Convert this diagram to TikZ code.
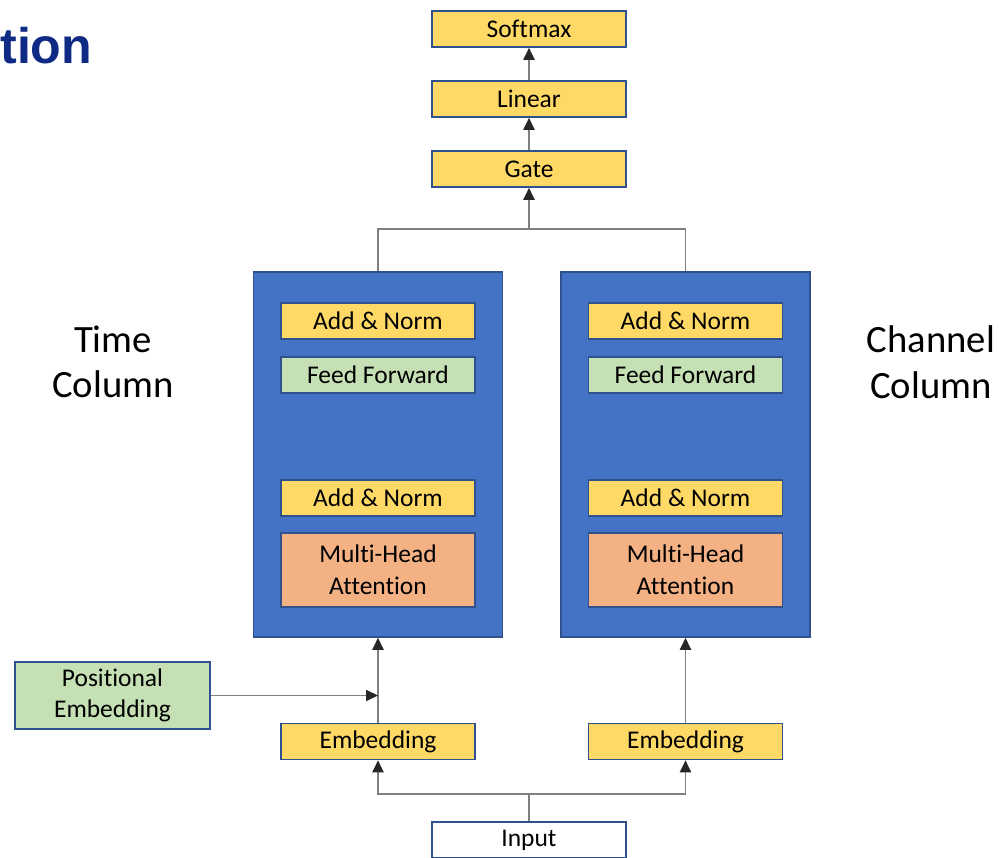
\documentclass[tikz,border=0pt]{standalone}
\usepackage{fontspec}
\setmainfont{Carlito}[Ligatures=NoCommon]
\newfontfamily\titlefont{Liberation Sans}
\usetikzlibrary{arrows.meta,positioning,calc}

\definecolor{boxyellow}{HTML}{FFD966}
\definecolor{boxgreen}{HTML}{C5E0B4}
\definecolor{boxorange}{HTML}{F4B183}
\definecolor{colblue}{HTML}{4472C4}
\definecolor{edgeblue}{HTML}{2F528F}
\definecolor{titleblue}{HTML}{0E2A84}
\definecolor{linegray}{HTML}{7F7F7F}

\begin{document}
\begin{tikzpicture}[->,>={Triangle[length=2.4mm,width=2.2mm,color=black!85]},
x=0.02cm,y=-0.02cm,
node distance=1.4cm,
font=\fontsize{14.5}{18}\selectfont]

\tikzstyle{layer}=[rectangle, minimum width=3.88cm, minimum height=0.72cm, inner sep=0pt,
fill=boxyellow, draw=edgeblue, line width=0.9pt, text=black, align=center]
\tikzstyle{column}=[rectangle, minimum width=4.98cm, minimum height=7.3cm,
fill=colblue, draw=edgeblue, line width=0.9pt]
\tikzstyle{link}=[draw=linegray, line width=1.1pt]

\useasboundingbox (0,0) rectangle (1008,858);

%title fragment
\node[anchor=base west, inner sep=0pt, text=titleblue,
font=\titlefont\bfseries\fontsize{28.5}{30}\selectfont]
(title) at (0,64)
{tion};

%output stack
\node[layer]
(gate) at (529,169)
{Gate};

\node[layer]
(linear) [above of=gate]
{Linear};

\node[layer]
(softmax) [above of=linear]
{Softmax};

%the two columns
\node[column]
(timecol) at (378,454.5)
{};

\node[column]
(chancol) at (685.5,454.5)
{};

\node[align=center, font=\fontsize{22}{26}\selectfont]
(timelbl) at (113,362)
{Time\\Column};

\node[align=center, font=\fontsize{22}{26}\selectfont]
(chanlbl) at (931,362)
{Channel\\Column};

%time column layers
\node[layer]
(tnormb) at (378,321)
{Add \& Norm};

\node[layer,fill=boxgreen]
(tff) [below of=tnormb, node distance=1.08cm]
{Feed Forward};

\node[layer]
(tnorma) at (378,498)
{Add \& Norm};

\node[layer,fill=boxorange,minimum height=1.48cm]
(tmha) [below of=tnorma, node distance=1.44cm]
{Multi-Head\\Attention};

%channel column layers
\node[layer]
(cnormb) at (685.5,321)
{Add \& Norm};

\node[layer,fill=boxgreen]
(cff) [below of=cnormb, node distance=1.08cm]
{Feed Forward};

\node[layer]
(cnorma) at (685.5,498)
{Add \& Norm};

\node[layer,fill=boxorange,minimum height=1.48cm]
(cmha) [below of=cnorma, node distance=1.44cm]
{Multi-Head\\Attention};

%inputs
\node[layer]
(temb) at (378,741.5)
{Embedding};

\node[layer]
(cemb) at (685.5,741.5)
{Embedding};

\node[layer,fill=boxgreen,minimum width=3.9cm,minimum height=1.34cm]
(posemb) at (112.5,695.5)
{Positional\\Embedding};

\node[layer,fill=white]
(input) at (529,840)
{Input};

\coordinate (merge) at (529,229);
\coordinate (split) at (529,794);

\draw[link,->] (gate) -- (linear);
\draw[link,->] (linear) -- (softmax);
\draw[link,-] (timecol.north) |- (merge) -| (chancol.north);
\draw[link,->] (merge) -- (gate);

\draw[link,-] (input) -- (split);
\draw[link,->] (split) -| (temb.south);
\draw[link,->] (split) -| (cemb.south);
\draw[link,->] (temb) -- (timecol);
\draw[link,->] (cemb) -- (chancol);
\draw[link,->] (posemb.east) -- (posemb.east -| temb.north);

\end{tikzpicture}
\end{document}
